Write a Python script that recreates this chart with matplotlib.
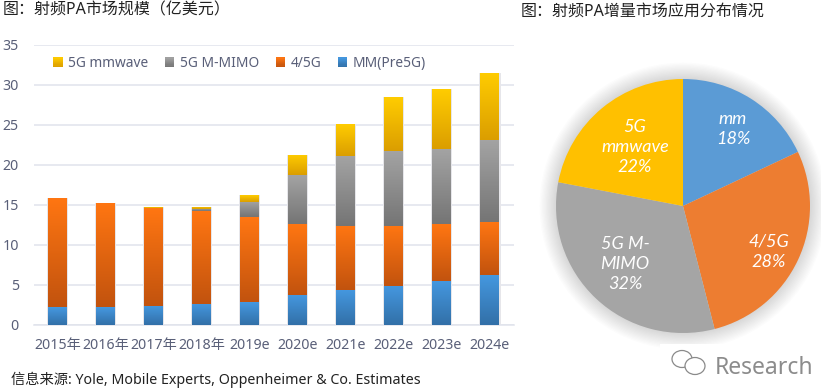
# -*- coding: utf-8 -*-
import matplotlib
matplotlib.use('Agg')
import matplotlib.pyplot as plt
import numpy as np
from matplotlib.colors import LinearSegmentedColormap, to_rgb
from matplotlib.legend_handler import HandlerPatch
from matplotlib.patches import Circle, Ellipse, Rectangle

plt.rcParams['font.family'] = ['Noto Sans', 'Noto Sans CJK SC', 'DejaVu Sans']

years = ['2015年', '2016年', '2017年', '2018年', '2019e', '2020e', '2021e', '2022e', '2023e', '2024e']
mm_pre5g = [2.2, 2.2, 2.4, 2.65, 2.85, 3.75, 4.4, 4.9, 5.5, 6.25]
lte_5g = [13.65, 13.0, 12.2, 11.55, 10.6, 8.85, 8.0, 7.5, 7.1, 6.65]
m_mimo = [0, 0, 0, 0.25, 1.95, 6.1, 8.7, 9.3, 9.35, 10.2]
mmwave = [0, 0, 0.1, 0.3, 0.8, 2.5, 3.95, 6.7, 7.45, 8.4]
yticks = [0, 5, 10, 15, 20, 25, 30, 35]

pie_labels = ['mm', '4/5G', '5G M-\nMIMO', '5G\nmmwave']
pie_pct = [18, 28, 32, 22]
pie_colors = ['#5B9BD5', '#ED7D31', '#A5A5A5', '#FFC000']
pie_text_pos = [(0.394, 0.606), (0.677, -0.362), (-0.457, -0.457), (-0.378, 0.465)]

W, H = 821, 389
TICK = '#595F78'
GRID = '#E0E3EC'

# (name, values, top colour, bottom colour)
series = [
    ('MM(Pre5G)', mm_pre5g, '#4598E0', '#3270A8'),
    ('4/5G', lte_5g, '#FF7612', '#C2530E'),
    ('5G M-MIMO', m_mimo, '#A3A3A3', '#757575'),
    ('5G mmwave', mmwave, '#FFCC00', '#DB9E00'),
]


def px_axes(fig, x0, y0, x1, y1):
    # axes from pixel box, y counted from the top of the picture
    return fig.add_axes([x0 / W, 1 - y1 / H, (x1 - x0) / W, (y1 - y0) / H])


class GradientHandler(HandlerPatch):
    def create_artists(self, legend, orig_handle, xdescent, ydescent, width, height, fontsize, trans):
        top = np.array(to_rgb(orig_handle.top))
        bot = np.array(to_rgb(orig_handle.bot))
        out = []
        n = 8
        side = height * 0.95
        for i in range(n):
            c = bot + (top - bot) * (i + 0.5) / n
            out.append(Rectangle((-xdescent + width - side, -ydescent + i * side / n), side, side / n + 0.2,
                                 facecolor=c, edgecolor='none', transform=trans))
        return out


fig = plt.figure(figsize=(W / 100, H / 100), dpi=100, facecolor='white')

#%%- stacked bars
ax = px_axes(fig, 33.5, 44.5, 514, 325)
x = np.arange(len(years))
bottom = np.zeros(len(years))
ax.bar(x, np.sum([s[1] for s in series], axis=0), width=0.44, color='#E6E6EA', zorder=2)
handles = []
for name, vals, top, bot in series:
    cmap = LinearSegmentedColormap.from_list(name, [bot, top])
    bars = ax.bar(x, vals, width=0.395, bottom=bottom, color=top, label=name, zorder=3)
    for b in bars:
        if b.get_height() <= 0:
            continue
        im = ax.imshow(np.linspace(1, 0, 64).reshape(-1, 1), cmap=cmap, aspect='auto', zorder=4,
                       extent=[b.get_x(), b.get_x() + b.get_width(), b.get_y(), b.get_y() + b.get_height()])
        im.set_clip_path(b)
    h = Rectangle((0, 0), 1, 1)
    h.top, h.bot = top, bot
    handles.append(h)
    bottom = bottom + np.array(vals)

ax.set_xlim(-0.5, len(years) - 0.5 + 0.0)
ax.set_ylim(0, 35)
ax.set_yticks(yticks)
ax.set_xticks(x, years)
ax.grid(axis='y', color=GRID, linewidth=1.1, zorder=0)
ax.set_axisbelow(True)
for k in ['top', 'left', 'right']:
    ax.spines[k].set_visible(False)
ax.spines['bottom'].set_color(GRID)
ax.spines['bottom'].set_linewidth(1.1)
ax.tick_params(axis='both', length=0, labelcolor=TICK, labelsize=10.2)
ax.tick_params(axis='y', pad=10.5)
ax.tick_params(axis='x', pad=9.5)

leg = ax.legend(handles[::-1], [s[0] for s in series][::-1], ncols=4, frameon=False,
                loc='upper left', bbox_to_anchor=(0.04, 0.96), fontsize=9.9, labelcolor=TICK,
                handler_map={Rectangle: GradientHandler()}, handlelength=0.72, handleheight=0.72,
                handletextpad=0.42, columnspacing=1.15, borderaxespad=0, borderpad=0)

#%%- pie
ax2 = px_axes(fig, 556, 79, 810, 333)
for r in np.linspace(1.13, 1.0, 14):
    ax2.add_patch(Circle((0, 0), r, facecolor='black', alpha=0.011, edgecolor='none', clip_on=False, zorder=0))
wedges, _ = ax2.pie(pie_pct, colors=pie_colors, startangle=90, counterclock=False, radius=1,
                    wedgeprops={'linewidth': 0})
for w in wedges:
    w.set_zorder(2)
ax2.set_xlim(-1, 1)
ax2.set_ylim(-1, 1)
for name, p, (tx, ty) in zip(pie_labels, pie_pct, pie_text_pos):
    ax2.text(tx, ty, '%s\n%d%%' % (name, p), color='white', style='italic', family='Lato',
             fontsize=13, ha='center', va='center', linespacing=1.32, zorder=5)

#%%- titles and footer
fig.text(3 / W, 1 - 10.5 / H, '图：射频PA市场规模（亿美元）', fontsize=11.5, color='#222222', va='center')
fig.text(521 / W, 1 - 11.5 / H, '图：射频PA增量市场应用分布情况', fontsize=11.5, color='#222222', va='center')
fig.text(11 / W, 1 - 380 / H, '信息来源: Yole, Mobile Experts, Oppenheimer & Co. Estimates', fontsize=10.25,
         color='#222222', va='center')

#%%- watermark
fig.patches.append(Rectangle((660 / W, 0), 161 / W, 1 - 344 / H, transform=fig.transFigure,
                             facecolor='white', edgecolor='none', zorder=1))
for cx, cy, ew, eh in [(682, 359, 20, 17), (695, 366, 20, 17)]:
    fig.patches.append(Ellipse((cx / W, 1 - cy / H), ew / W, eh / H, transform=fig.transFigure,
                               facecolor='white', edgecolor='#8A8A8A', linewidth=0.9, zorder=2))
fig.text(715 / W, 1 - 374 / H, 'Research', fontsize=16.5, color='#8C8C8C', va='baseline', zorder=3)

fig.savefig('out.png', dpi=100)
